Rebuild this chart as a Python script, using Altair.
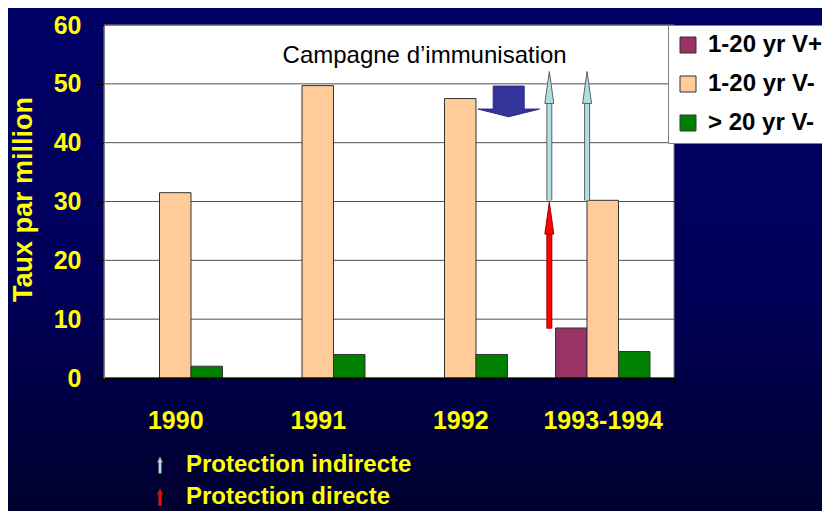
import altair as alt
import pandas as pd

FONT = "Liberation Sans"
YELLOW = "#FFFF00"

# ---------------- data ----------------
periods = ["1990", "1991", "1992", "1993-1994"]
series = ["1-20 yr V+", "1-20 yr V-", "> 20 yr V-"]
vals_1_20_vplus = [None, None, None, 8.5]
vals_1_20_vminus = [31.5, 49.7, 47.5, 30.2]
vals_over20_vminus = [2.0, 4.0, 4.0, 4.5]
bar_colors = ["#993366", "#FFCC99", "#008000"]
y_ticks = [0, 10, 20, 30, 40, 50, 60]

# arrows (x in category-index units 0..4, y in rate units)
arrow_types = ["Protection indirecte", "Protection indirecte", "Protection directe"]
arrow_x = [3.125, 3.39, 3.125]
arrow_from = [30.2, 30.2, 8.4]
arrow_shaft_end = [46.7, 46.7, 24.7]
arrow_tip = [52.1, 52.1, 29.9]
arrow_type_domain = ["Protection indirecte", "Protection directe"]
arrow_colors = ["#B0DFE0", "#FF0000"]
arrow_outlines = ["#606060", "#A00000"]

campaign_label = "Campagne d\u2019immunisation"
campaign_x = 2.25
campaign_y = 53.5
campaign_arrow_x = 2.84
campaign_arrow_tip = 44.4

# ---------------- tables ----------------
rows = []
for i, p in enumerate(periods):
    for s, vals in zip(series, [vals_1_20_vplus, vals_1_20_vminus, vals_over20_vminus]):
        if vals[i] is not None:
            rows.append({"period": p, "series": s, "value": vals[i]})
bars_df = pd.DataFrame(rows)

col_map = dict(zip(arrow_type_domain, arrow_colors))
out_map = dict(zip(arrow_type_domain, arrow_outlines))
arrows_df = pd.DataFrame({
    "type": arrow_types,
    "x": arrow_x,
    "y0": arrow_from,
    "y1": arrow_shaft_end,
    "tip": arrow_tip,
})
arrows_df["fillc"] = arrows_df["type"].map(col_map)
arrows_df["outline"] = arrows_df["type"].map(out_map)

campaign_df = pd.DataFrame({"x": [campaign_x], "y": [campaign_y], "label": [campaign_label]})
block_df = pd.DataFrame({"x": [campaign_arrow_x], "tip": [campaign_arrow_tip]})
grid_df = pd.DataFrame({"y": y_ticks[1:]})

W, H = 570, 353
PAD = {"left": 96, "top": 17, "right": 148, "bottom": 133}

yscale = alt.Scale(domain=[0, 60], nice=False)
xq = alt.Scale(domain=[0, 4], nice=False)
yaxis = alt.Axis(values=y_ticks, grid=False, labelFont=FONT, labelFontSize=25,
                 labelFontWeight="bold", labelColor=YELLOW, tickColor="black",
                 tickSize=8, domainColor="#808080", labelPadding=15,
                 title="Taux par million", titleFont=FONT, titleFontSize=27,
                 titleFontWeight="bold", titleColor=YELLOW, titleX=-81, titleY=174,
                 titleBaseline="middle", titleAlign="center", titleAngle=270,
                 zindex=1)

HEAD = "M0,0L0.28,2L-0.28,2Z"
BLOCK = ("M-0.505,-1L0.505,-1L0.505,-0.251L1.0,-0.251L0,0L-1.0,-0.251"
         "L-0.505,-0.251Z")
LEG_ARROW = "M0,-1L0.32,-0.3L0.18,-0.3L0.18,1L-0.18,1L-0.18,-0.3L-0.32,-0.3Z"

one = alt.Data(values=[{"a": 1}])

background = alt.Chart(one).mark_rect(
    fill=alt.LinearGradient(
        gradient="linear",
        stops=[alt.GradientStop(offset=0, color="#000066"),
               alt.GradientStop(offset=0.55, color="#00005A"),
               alt.GradientStop(offset=1, color="#00002E")],
        x1=0, x2=0, y1=0, y2=1),
).encode(
    x=alt.value(-PAD["left"]), x2=alt.value(W + PAD["right"]),
    y=alt.value(-PAD["top"]), y2=alt.value(H + PAD["bottom"]),
)

plot_bg = alt.Chart(one).mark_rect(fill="white", stroke="#808080", strokeWidth=1).encode(
    x=alt.value(0), x2=alt.value(W), y=alt.value(0), y2=alt.value(H)
)

grid = alt.Chart(grid_df).mark_rule(color="#505050", strokeWidth=1).encode(
    y=alt.Y("y:Q", scale=yscale, axis=yaxis)
)

bars = alt.Chart(bars_df).mark_bar(stroke="#333333", strokeWidth=1, opacity=1).encode(
    x=alt.X("period:N", scale=alt.Scale(domain=periods, paddingInner=0, paddingOuter=0),
            axis=alt.Axis(title=None, labelAngle=0, labelFont=FONT, labelFontSize=25,
                          labelFontWeight="bold", labelColor=YELLOW, tickColor="black",
                          tickSize=8, tickBand="extent", domainColor="black", domainWidth=2,
                          labelPadding=22, zindex=1)),
    xOffset=alt.XOffset("series:N", scale=alt.Scale(domain=series, paddingInner=0,
                                                    paddingOuter=0.762)),
    y=alt.Y("value:Q", scale=yscale, axis=yaxis),
    color=alt.Color("series:N", scale=alt.Scale(domain=series, range=bar_colors),
                    legend=alt.Legend(orient="none", legendX=564, legendY=0, title=None,
                                      fillColor="white", strokeColor="#808080", padding=8,
                                      rowPadding=15, symbolType="square", symbolSize=256,
                                      symbolStrokeColor="#333333", symbolStrokeWidth=1,
                                      labelFont=FONT, labelFontSize=24, labelFontWeight="bold",
                                      labelColor="black", labelOffset=8, labelLimit=200)),
)

shaft_outline = alt.Chart(arrows_df).mark_rule(strokeWidth=6).encode(
    x=alt.X("x:Q", scale=xq, axis=None),
    y=alt.Y("y0:Q", scale=yscale, axis=yaxis), y2="y1:Q",
    stroke=alt.Stroke("outline:N", scale=None),
)
shaft = alt.Chart(arrows_df).mark_rule(strokeWidth=4).encode(
    x=alt.X("x:Q", scale=xq, axis=None),
    y=alt.Y("y0:Q", scale=yscale, axis=yaxis), y2="y1:Q",
    stroke=alt.Stroke("fillc:N", scale=None),
)
heads = alt.Chart(arrows_df).mark_point(filled=True, shape=HEAD, size=1024, opacity=1,
                                        strokeWidth=1).encode(
    x=alt.X("x:Q", scale=xq, axis=None),
    y=alt.Y("tip:Q", scale=yscale, axis=yaxis),
    stroke=alt.Stroke("outline:N", scale=None),
    color=alt.Color("type:N", scale=alt.Scale(domain=arrow_type_domain, range=arrow_colors),
                    legend=alt.Legend(orient="none", legendX=44, legendY=428, title=None,
                                      padding=0, rowPadding=8, symbolType=LEG_ARROW,
                                      symbolSize=289, symbolStrokeWidth=0.5,
                                      symbolStrokeColor="#404040",
                                      labelFont=FONT, labelFontSize=24, labelFontWeight="bold",
                                      labelColor=YELLOW, labelOffset=14, labelLimit=300)),
)

block = alt.Chart(block_df).mark_point(filled=True, shape=BLOCK, size=3770, opacity=1,
                                       color="#333399", stroke="#2A2A85",
                                       strokeWidth=1).encode(
    x=alt.X("x:Q", scale=xq, axis=None),
    y=alt.Y("tip:Q", scale=yscale, axis=yaxis),
)

campaign = alt.Chart(campaign_df).mark_text(font=FONT, fontSize=24, color="black",
                                            align="center", baseline="alphabetic").encode(
    x=alt.X("x:Q", scale=xq, axis=None),
    y=alt.Y("y:Q", scale=yscale, axis=yaxis),
    text="label:N",
)

chart = alt.layer(
    background, plot_bg, grid, bars, shaft_outline, shaft, heads, block, campaign
).resolve_scale(
    x="independent", color="independent"
).properties(
    width=W, height=H, autosize=alt.AutoSizeParams(type="none"), padding=PAD
).configure_view(strokeWidth=0).configure(font=FONT)

chart.save("out.html", embed_options={"renderer": "svg", "actions": False})
